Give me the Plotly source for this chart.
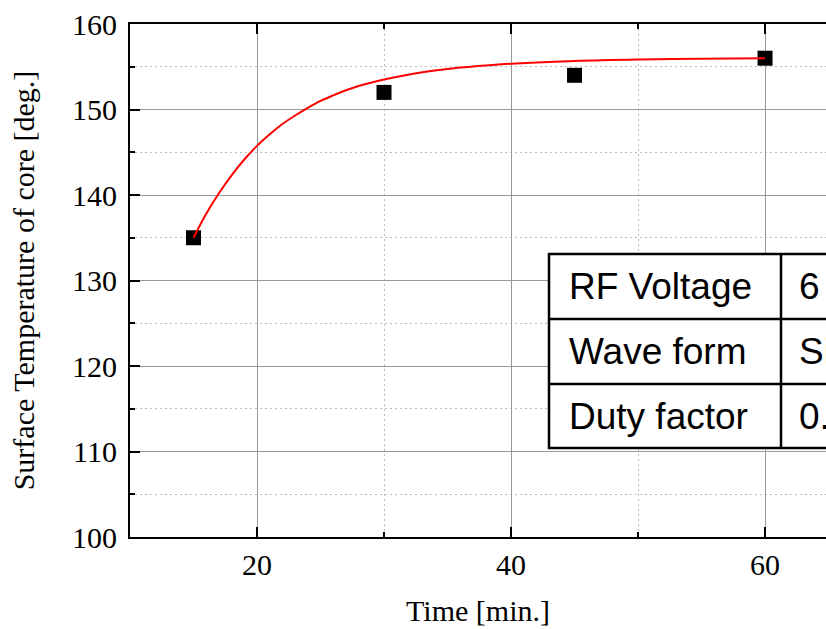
import plotly.graph_objects as go

# Measured data
time_min = [15, 30, 45, 60]
temp_deg = [135, 152, 154, 156]

# Fitted curve
fit_x = [15, 16, 17, 18, 19, 20, 21, 22, 23, 24, 25, 26, 27, 28, 30, 32, 34, 36, 38, 40, 45, 50, 55, 60]
fit_y = [135.0, 137.8, 140.2, 142.3, 144.15, 145.75, 147.1, 148.3, 149.3, 150.2, 151.0, 151.65,
         152.25, 152.75, 153.5, 154.1, 154.55, 154.9, 155.15, 155.35, 155.68, 155.85, 155.94, 156.0]

table_labels = ["RF Voltage", "Wave form", "Duty factor"]
table_values = ["6 kV", "Sine", "0.5"]

x_ticks = [20, 40, 60]
y_ticks = [100, 110, 120, 130, 140, 150, 160]

serif = "Liberation Serif, Times New Roman, serif"
sans = "Liberation Sans, Arial, sans-serif"

fig = go.Figure()
fig.add_trace(go.Scatter(x=time_min, y=temp_deg, mode="markers",
                         marker=dict(symbol="square", size=15, color="black"),
                         showlegend=False))
fig.add_trace(go.Scatter(x=fit_x, y=fit_y, mode="lines",
                         line=dict(color="red", width=2, shape="spline", smoothing=1.0),
                         showlegend=False))

grid_major = "#999999"
grid_minor = "#bbbbbb"
minor_dash = "2px,3px"

fig.update_xaxes(range=[10, 64.8], tickvals=x_ticks, ticks="inside", ticklen=10, tickwidth=2,
                 tickcolor="black", showline=True, linecolor="black", linewidth=2, mirror="ticks",
                 showgrid=True, gridcolor=grid_major, gridwidth=1, zeroline=False,
                 minor=dict(dtick=10, tick0=0, ticks="inside", ticklen=5, tickwidth=2, tickcolor="black",
                            showgrid=True, gridcolor=grid_minor, griddash=minor_dash, gridwidth=1),
                 tickfont=dict(family=serif, size=30, color="black"),
                 title=dict(text="Time [min.]", font=dict(family=serif, size=30, color="black"), standoff=20))
fig.update_yaxes(range=[100, 160], tickvals=y_ticks, ticks="inside", ticklen=10, tickwidth=2,
                 tickcolor="black", showline=True, linecolor="black", linewidth=2, mirror=False,
                 showgrid=True, gridcolor=grid_major, gridwidth=1, zeroline=False,
                 ticklabelstandoff=5,
                 minor=dict(dtick=5, tick0=0, ticks="inside", ticklen=5, tickwidth=2, tickcolor="black",
                            showgrid=True, gridcolor=grid_minor, griddash=minor_dash, gridwidth=1),
                 tickfont=dict(family=serif, size=30, color="black"),
                 title=dict(text="Surface Temperature of core [deg.]",
                            font=dict(family=serif, size=30, color="black"), standoff=29))

# Table (partially outside the figure, as in the reference)
pw = 826 - 130
ph = 537 - 24
def px(x):
    return (x - 130) / pw
def py(y):
    return (537 - y) / ph

x0, xc, x1 = 549, 781, 900
row_y = [254, 319, 384, 448]
fig.add_shape(type="rect", xref="paper", yref="paper", x0=px(x0), x1=px(x1), y0=py(row_y[3]), y1=py(row_y[0]),
              fillcolor="white", line=dict(color="black", width=2.5), layer="above")
for yy in row_y[1:3]:
    fig.add_shape(type="line", xref="paper", yref="paper", x0=px(x0), x1=px(x1), y0=py(yy), y1=py(yy),
                  line=dict(color="black", width=2.5), layer="above")
fig.add_shape(type="line", xref="paper", yref="paper", x0=px(xc), x1=px(xc), y0=py(row_y[3]), y1=py(row_y[0]),
              line=dict(color="black", width=2.5), layer="above")
for i, (lab, val) in enumerate(zip(table_labels, table_values)):
    yc = (row_y[i] + row_y[i + 1]) / 2
    fig.add_annotation(xref="paper", yref="paper", x=px(567), y=py(yc), text=lab, showarrow=False,
                       xanchor="left", yanchor="middle", font=dict(family=sans, size=37, color="black"))
    fig.add_annotation(xref="paper", yref="paper", x=px(797), y=py(yc), text=val, showarrow=False,
                       xanchor="left", yanchor="middle", font=dict(family=sans, size=37, color="black"))

fig.update_layout(width=826, height=629, margin=dict(l=130, r=0, t=24, b=92),
                  plot_bgcolor="white", paper_bgcolor="white")

fig.write_html("out.html", config={"displayModeBar": False},
               post_script="document.body.style.margin='0';document.body.style.overflow='hidden';")
